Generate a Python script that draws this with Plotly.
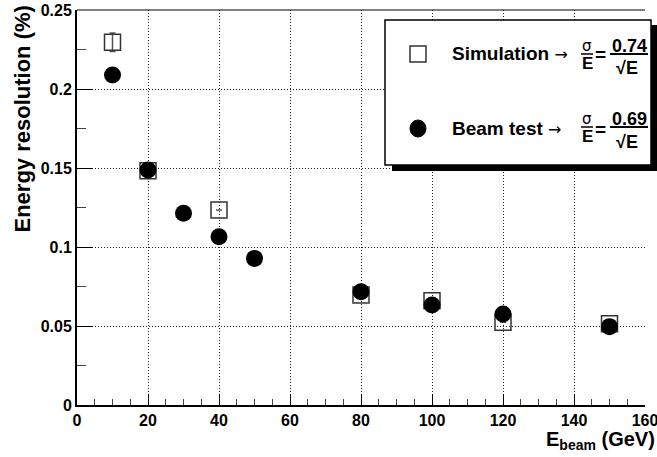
import plotly.graph_objects as go

# ---- data ----
sim_x = [10, 20, 40, 80, 100, 120, 150]
sim_y = [0.2296, 0.1483, 0.1234, 0.0696, 0.0660, 0.0523, 0.0515]
sim_err = [0.0058, None, None, None, None, None, None]

beam_x = [10, 20, 30, 40, 50, 80, 100, 120, 150]
beam_y = [0.2089, 0.1487, 0.1213, 0.1065, 0.0928, 0.0717, 0.0633, 0.0576, 0.0496]

x_ticks = [0, 20, 40, 60, 80, 100, 120, 140, 160]
y_ticks = [0, 0.05, 0.1, 0.15, 0.2, 0.25]
y_tick_labels = ["0", "0.05", "0.1", "0.15", "0.2", "0.25"]

sim_label = "Simulation"
beam_label = "Beam test"
sim_coef = "0.74"
beam_coef = "0.69"

# ---- layout geometry (pixels) ----
W, H = 657, 457
L, R, T, B = 77, 645, 10, 405
PW, PH = R - L, B - T


def px(xp):
    return (xp - L) / PW


def py(yp):
    return (B - yp) / PH


FONT = "Liberation Sans, Arial, sans-serif"

fig = go.Figure()

fig.add_trace(go.Scatter(
    x=sim_x, y=sim_y, mode="markers", name=sim_label,
    marker=dict(symbol="square-open", size=16, color="#333333", line=dict(width=1.5, color="#333333")),
    error_y=dict(type="data", array=sim_err, visible=True, color="#555555", thickness=1.5, width=3),
    showlegend=False,
))
fig.add_trace(go.Scatter(
    x=beam_x, y=beam_y, mode="markers", name=beam_label,
    marker=dict(symbol="circle", size=17, color="black"),
    showlegend=False,
))

tickfont = dict(family=FONT, size=16, color="black", weight="bold")

fig.update_xaxes(
    range=[0, 160], tickvals=x_ticks, ticktext=[str(v) for v in x_ticks],
    showline=True, linecolor="black", linewidth=2, mirror=False,
    ticks="inside", ticklen=11, tickcolor="black", tickwidth=1,
    minor=dict(ticks="inside", dtick=5, tick0=0, ticklen=6, tickcolor="#444", showgrid=False),
    showgrid=True, gridcolor="#222222", gridwidth=1, griddash="1px,2px",
    zeroline=False, tickfont=tickfont, ticklabeloverflow="allow", automargin=False,
)
fig.update_yaxes(
    range=[0, 0.25], tickvals=y_ticks, ticktext=y_tick_labels,
    showline=True, linecolor="black", linewidth=2, mirror=False,
    ticks="inside", ticklen=16, tickcolor="black", tickwidth=1,
    minor=dict(ticks="inside", dtick=0.025, tick0=0, ticklen=9, tickcolor="#444", showgrid=False),
    showgrid=True, gridcolor="#222222", gridwidth=1, griddash="1px,2px",
    zeroline=False, tickfont=tickfont, ticklabeloverflow="allow", automargin=False,
)

shapes = []
# top frame line
shapes.append(dict(type="line", xref="paper", yref="paper", x0=0, x1=1, y0=1, y1=1,
                   line=dict(color="black", width=1)))
# legend shadow and box
shapes.append(dict(type="rect", xref="paper", yref="paper",
                   x0=px(392), x1=px(657), y0=py(171), y1=py(25),
                   fillcolor="black", line=dict(width=0), layer="above"))
shapes.append(dict(type="rect", xref="paper", yref="paper",
                   x0=px(385), x1=px(651), y0=py(165), y1=py(20),
                   fillcolor="white", line=dict(color="black", width=1.5), layer="above"))
# legend markers
shapes.append(dict(type="rect", xref="paper", yref="paper",
                   x0=px(410), x1=px(426), y0=py(62), y1=py(46),
                   fillcolor="white", line=dict(color="#333333", width=1.5), layer="above"))
shapes.append(dict(type="circle", xref="paper", yref="paper",
                   x0=px(410), x1=px(426), y0=py(137), y1=py(120),
                   fillcolor="black", line=dict(color="black", width=1), layer="above"))


def frac_lines(ybar):
    out = []
    out.append(dict(type="line", xref="paper", yref="paper", x0=px(581), x1=px(593),
                    y0=py(ybar), y1=py(ybar), line=dict(color="black", width=1.5), layer="above"))
    out.append(dict(type="line", xref="paper", yref="paper", x0=px(610), x1=px(648),
                    y0=py(ybar), y1=py(ybar), line=dict(color="black", width=2), layer="above"))
    return out


shapes += frac_lines(54)
shapes += frac_lines(127)

annotations = []


def ann(text, xp, yp, size=15, xanchor="left", yanchor="middle", bold=True, angle=0, family=FONT):
    annotations.append(dict(
        text=text, xref="paper", yref="paper", x=px(xp), y=py(yp),
        xanchor=xanchor, yanchor=yanchor, showarrow=False, textangle=angle,
        font=dict(family=family, size=size, color="black", weight="bold" if bold else "normal"),
    ))


ARROW = "<span style='font-family:DejaVu Sans;font-weight:normal;font-size:16px'>→</span>"


def legend_row(label, coef, ytext, ysig, yE, ysq):
    ann(f"{label} {ARROW}", 450, ytext, size=19)
    ann("σ", 587, ysig, size=15, xanchor="center", bold=False, family="DejaVu Sans")
    ann("E", 587, yE, size=17, xanchor="center")
    ann("=", 600, ytext + 1, size=19, xanchor="center")
    ann(coef, 629, ysig, size=18, xanchor="center")
    ann("√E", 627, ysq, size=18, xanchor="center")


legend_row(sim_label, sim_coef, 53, 46, 63, 68)
legend_row(beam_label, beam_coef, 128, 119, 136, 142)

# axis titles
ann("Energy resolution (%)", 22, 4, size=22, xanchor="center", yanchor="top", angle=-90)
ann("E<sub>beam</sub> (GeV)", 657, 440, size=20, xanchor="right")

fig.update_layout(
    width=W, height=H,
    margin=dict(l=L, r=W - R, t=T, b=H - B),
    paper_bgcolor="white", plot_bgcolor="white",
    shapes=shapes, annotations=annotations,
    showlegend=False,
)

fig.write_html("out.html")
